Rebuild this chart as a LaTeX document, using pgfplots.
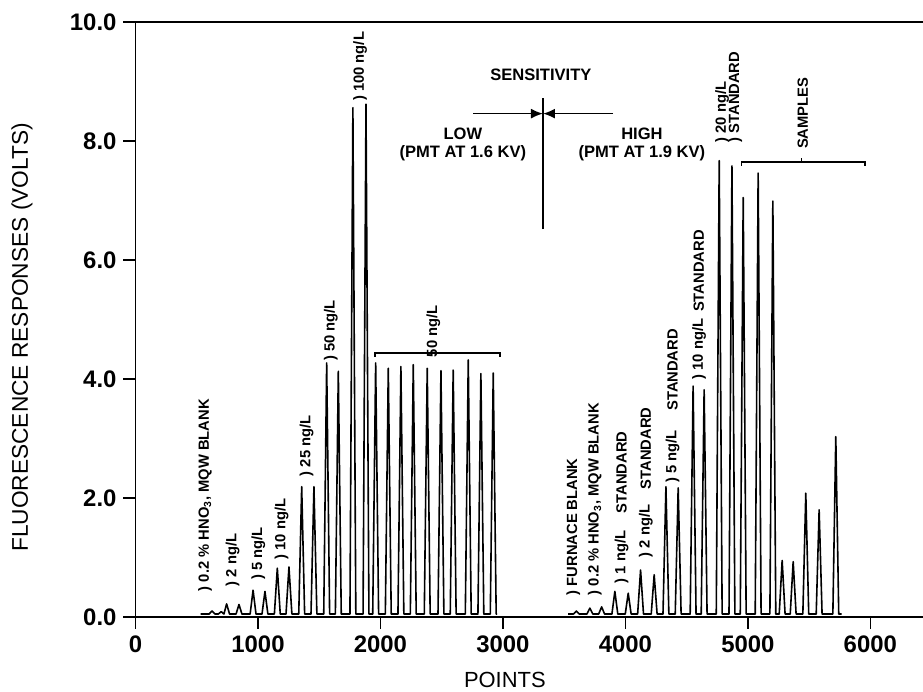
\documentclass[border=0pt]{standalone}
\usepackage{pgfplots}
\pgfplotsset{compat=1.18}
\usepackage{fontspec}
\setmainfont{Liberation Sans}
\usetikzlibrary{arrows.meta}
\begin{document}
\begin{tikzpicture}
\useasboundingbox (-67.75bp,-37.5bp) rectangle (393.75bp,308.5bp);
\begin{axis}[
  scale only axis, width=393.75bp, height=297.5bp,
  xmin=0, xmax=6430, ymin=0, ymax=10,
  enlargelimits=false, clip=false,
  axis x line*=bottom, axis y line*=left,
  axis line style={line width=0.8bp},
  tick align=outside, major tick length=6bp,
  every tick/.style={line width=0.8bp, black},
  xtick={0,1000,...,6000}, ytick={0,2,...,10},
  /pgf/number format/assume math mode=true,
  xticklabel style={font=\fontsize{12}{14}\selectfont\bfseries, /pgf/number format/1000 sep={}},
  yticklabel style={font=\fontsize{12}{14}\selectfont\bfseries, /pgf/number format/.cd, fixed, fixed zerofill, precision=1},
  xlabel={POINTS},
  ylabel={FLUORESCENCE RESPONSES (VOLTS)},
  xlabel style={font=\fontsize{11}{13}\selectfont, at={(rel axis cs:0.469,0)}, anchor=center, yshift=-31.5bp},
  ylabel style={font=\fontsize{11.4}{13}\selectfont, at={(rel axis cs:0,0.47)}, anchor=center, yshift=56.75bp},
]
\draw[line width=0.8bp] (rel axis cs:0,1) -- (rel axis cs:1,1);
% low sensitivity trace
\addplot[black, line width=0.8bp, line join=round] coordinates {
(532,0.05)
(601,0.05)(625,0.10)(649,0.05)
(676,0.05)(700,0.09)(722,0.05)
(722,0.05)(744,0.22)(768,0.05)
(821,0.05)(845,0.21)(869,0.05)
(936,0.05)(960,0.45)(984,0.05)
(1033,0.05)(1057,0.43)(1081,0.05)
(1134,0.05)(1158,0.82)(1182,0.05)
(1229,0.05)(1253,0.84)(1277,0.05)
(1333,0.05)(1357,2.19)(1381,0.05)
(1433,0.05)(1457,2.19)(1481,0.05)
(1537,0.05)(1561,4.27)(1585,0.05)
(1632,0.05)(1656,4.13)(1680,0.05)
(1751,0.05)(1775,8.56)(1799,0.05)
(1858,0.05)(1882,8.62)(1906,0.05)
(1937,0.05)(1961,4.27)(1985,0.05)
(2040,0.05)(2064,4.18)(2088,0.05)
(2143,0.05)(2167,4.21)(2191,0.05)
(2244,0.05)(2268,4.24)(2292,0.05)
(2358,0.05)(2382,4.18)(2406,0.05)
(2470,0.05)(2494,4.14)(2518,0.05)
(2570,0.05)(2594,4.15)(2618,0.05)
(2693,0.05)(2717,4.32)(2741,0.05)
(2796,0.05)(2820,4.09)(2844,0.05)
(2897,0.05)(2921,4.10)(2945,0.05)
(2952,0.05)
};
% high sensitivity trace
\addplot[black, line width=0.8bp, line join=round] coordinates {
(3533,0.05)
(3576,0.05)(3600,0.10)(3624,0.05)
(3686,0.05)(3710,0.15)(3734,0.05)
(3782,0.05)(3806,0.17)(3830,0.05)
(3890,0.05)(3914,0.43)(3938,0.05)
(3999,0.05)(4023,0.40)(4047,0.05)
(4100,0.05)(4124,0.79)(4148,0.05)
(4211,0.05)(4235,0.71)(4259,0.05)
(4307,0.05)(4331,2.19)(4355,0.05)
(4407,0.05)(4431,2.17)(4455,0.05)
(4529,0.05)(4553,3.88)(4577,0.05)
(4619,0.05)(4643,3.82)(4667,0.05)
(4742,0.05)(4766,7.67)(4790,0.05)
(4846,0.05)(4870,7.58)(4894,0.05)
(4938,0.05)(4962,7.05)(4986,0.05)
(5060,0.05)(5084,7.46)(5108,0.05)
(5180,0.05)(5204,6.99)(5228,0.05)
(5256,0.05)(5280,0.95)(5304,0.05)
(5346,0.05)(5370,0.93)(5394,0.05)
(5449,0.05)(5473,2.08)(5497,0.05)
(5558,0.05)(5582,1.80)(5606,0.05)
(5694,0.05)(5718,3.03)(5742,0.05)
(5765,0.05)
};
% brackets
\draw[line width=0.8bp] (axis cs:1955,4.37) -- (axis cs:1955,4.44) -- (axis cs:2976,4.44) -- (axis cs:2976,4.37);
\draw[line width=0.8bp] (axis cs:4949,7.58) -- (axis cs:4949,7.65) -- (axis cs:5955,7.65) -- (axis cs:5955,7.58);
\draw[line width=0.8bp] (axis cs:5439,7.65) -- (axis cs:5439,7.72);
% sensitivity
\draw[line width=0.8bp] (axis cs:3327,6.52) -- (axis cs:3327,8.73);
\draw[line width=0.8bp, -{Latex[length=6bp,width=5bp]}] (axis cs:2757,8.46) -- (axis cs:3327,8.46);
\draw[line width=0.8bp, -{Latex[length=6bp,width=5bp]}] (axis cs:3900,8.46) -- (axis cs:3327,8.46);
\begin{scope}[every node/.style={font=\fontsize{8.3}{9}\selectfont\bfseries, inner sep=0pt}]
\node at (axis cs:3310,9.12) {SENSITIVITY};
\node[align=center] at (axis cs:2673,7.94) {LOW\\(PMT AT 1.6 KV)};
\node[align=center] at (axis cs:4135,7.94) {HIGH\\(PMT AT 1.9 KV)};
\end{scope}
\begin{scope}[every node/.style={font=\fontsize{7.4}{8}\selectfont\bfseries, inner sep=0pt, rotate=90, anchor=west}]
\node at (axis cs:567,0.43) {) 0.2 \% HNO\textsubscript{3}, MQW BLANK};
\node at (axis cs:793,0.51) {) 2 ng/L};
\node at (axis cs:1003,0.62) {) 5 ng/L};
\node at (axis cs:1193,0.96) {) 10 ng/L};
\node at (axis cs:1397,2.36) {) 25 ng/L};
\node at (axis cs:1595,4.30) {) 50 ng/L};
\node at (axis cs:1833,8.67) {) 100 ng/L};
\node at (axis cs:2431,4.36) {50 ng/L};
\node at (axis cs:3574,0.36) {) FURNACE BLANK};
\node at (axis cs:3751,0.36) {) 0.2 \% HNO\textsubscript{3}, MQW BLANK};
\node at (axis cs:3969,0.56) {) 1 ng/L};
\node at (axis cs:3969,1.74) {STANDARD};
\node at (axis cs:4167,1.00) {) 2 ng/L};
\node at (axis cs:4167,2.14) {STANDARD};
\node at (axis cs:4385,2.25) {) 5 ng/L};
\node at (axis cs:4385,3.46) {STANDARD};
\node at (axis cs:4602,3.99) {) 10 ng/L};
\node at (axis cs:4600,5.12) {STANDARD};
\node at (axis cs:4790,7.97) {) 20 ng/L};
\node at (axis cs:4898,7.97) {) STANDARD};
\node at (axis cs:5449,7.86) {SAMPLES};
\end{scope}
\end{axis}
\end{tikzpicture}
\end{document}
